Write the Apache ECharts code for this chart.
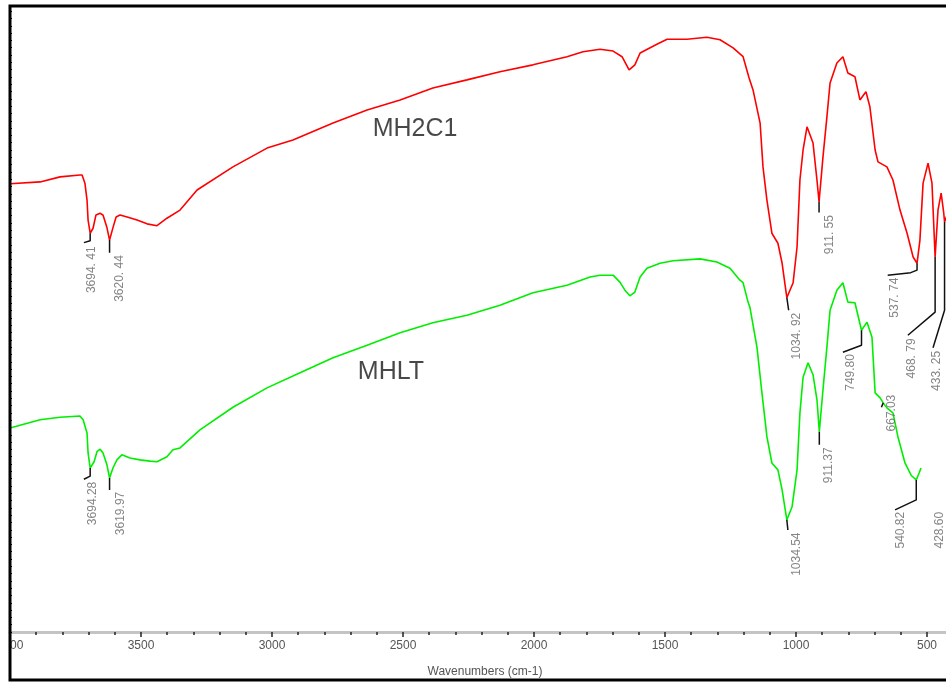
<!DOCTYPE html>
<html><head><meta charset="utf-8">
<script src="https://cdn.jsdelivr.net/npm/echarts@6/dist/echarts.min.js"></script>
<style>html,body{margin:0;padding:0;background:#fff;overflow:hidden;width:946px;height:682px}#c{width:1058px;height:682px}</style>
</head><body><div id="c"></div>
<script>
// ---- Data (wavenumber cm-1, transmittance-like units) ----
const redWavenumbers = [4000,3885,3809,3733,3725,3714,3706,3702,3694,3683,3672,3656,3645,3630,3620,3607,3595,3580,3553,3515,3477,3439,3401,3351,3286,3149,3019,2920,2767,2637,2511,2386,2256,2130,2004,1874,1813,1748,1698,1664,1637,1615,1595,1531,1492,1416,1340,1290,1240,1202,1179,1164,1137,1126,1111,1092,1069,1053,1035,1011,996,985,973,958,935,920,912,897,882,870,844,821,802,775,756,733,718,698,687,653,630,603,576,553,538,527,515,496,481,475,469,458,446,436,433,420,400];
const redValues = [71.6,71.9,72.7,73.0,73.0,71.7,69.0,65.8,63.7,64.5,66.6,66.9,66.6,64.6,62.6,64.6,66.3,66.6,66.3,65.8,65.2,64.9,66.1,67.4,70.6,74.3,77.3,78.6,81.3,83.4,85.0,86.9,88.2,89.5,90.6,91.9,92.7,93.1,92.8,91.9,89.8,90.6,92.5,93.9,94.7,94.7,95.0,94.6,93.3,91.9,88.5,86.6,81.3,74.3,69.0,63.7,62.1,58.9,53.4,55.8,61.5,72.2,77.0,80.7,78.1,72.2,68.7,75.9,82.3,87.7,90.9,91.9,89.3,88.7,85.0,86.3,83.9,77.0,75.1,74.3,72.2,67.4,63.7,59.9,58.9,62.6,71.7,74.9,71.7,65.8,59.9,67.4,70.1,66.9,65.5,67,68];

const greenWavenumbers = [4000,3885,3809,3733,3721,3706,3702,3694,3679,3668,3656,3645,3630,3620,3607,3592,3573,3542,3504,3466,3439,3401,3378,3351,3275,3149,3019,2893,2767,2637,2511,2386,2256,2130,2004,1874,1786,1748,1698,1672,1653,1634,1615,1595,1569,1519,1469,1366,1302,1252,1214,1202,1183,1176,1149,1130,1111,1092,1069,1053,1035,1015,996,985,973,954,935,920,911,897,882,870,844,821,802,775,750,729,710,698,679,667,653,630,611,584,560,541,530,523];
const greenValues = [32.6,33.9,34.3,34.5,33.9,31.8,28.6,26.2,27.2,28.8,29.2,28.6,26.7,24.6,26.2,27.5,28.3,27.8,27.5,27.3,27.2,28.0,29.1,29.4,32.3,35.9,39.0,41.4,43.8,45.8,47.8,49.4,50.6,52.2,54.2,55.4,56.7,57.0,57.0,55.9,54.6,53.7,54.3,56.7,58.1,58.9,59.3,59.6,59.1,58.1,56.2,55.8,52.7,51.9,45.5,38.2,31.2,27.0,25.9,22.7,17.9,20.0,25.9,35.0,40.7,43.0,41.1,37.1,32.0,38.7,45.5,51.4,54.6,55.8,52.7,52.6,48.2,49.5,47.1,38.2,37.4,36.6,35.8,35.0,31.2,27.0,25.0,24.3,25.4,26.2];

const seriesNames = ['MH2C1', 'MHLT'];
const seriesNameAt = [[2454, 80.4], [2546, 41.5]];

const redPeakLabels = ['3694. 41','3620. 44','1034. 92','911. 55','537. 74','468. 79','433. 25'];
const redPeakLeaders = [
  [[3694,63.7],[3694,62.5],[3718,62.2]],
  [[3620,62.6],[3620,60.6]],
  [[1035,53.4],[1028,51.4]],
  [[912,68.7],[912,67.0]],
  [[538,58.9],[538,57.8],[562,57.4],[650,57.0]],
  [[469,59.9],[469,51.1],[573,47.4]],
  [[433,65.5],[433,51.4],[477,45.4]]
];
const redPeakTextAt = [[3690,61.6],[3580,60.2],[998,51.0],[870,66.6],[622,56.6],[557,46.9],[462,44.9]];

const greenPeakLabels = ['3694.28','3619.97','1034.54','911.37','749.80','667.03','540.82','428.60'];
const greenPeakLeaders = [
  [[3694,26.2],[3694,24.9],[3718,24.4]],
  [[3620,24.6],[3620,22.7]],
  [[1035,17.9],[1031,16.3]],
  [[911,32.0],[911,29.9]],
  [[750,48.2],[750,45.8],[821,44.7]],
  [[667,36.6],[674,35.9]],
  [[541,24.3],[541,21.1],[622,19.5]],
  []
];
const greenPeakTextAt = [[3683,24.0],[3576,22.4],[996,15.9],[874,29.5],[790,44.4],[634,37.9],[599,19.2],[450,19.2]];

const xTickMin = 0, xTickMax = 4000, xTickStep = 500;

// ---- Chart ----
const FONT = 'Liberation Sans, Arial, sans-serif';
const chart = echarts.init(document.getElementById('c'));
const series = [];
series.push({
  type: 'line', name: seriesNames[0], animation: false, showSymbol: false, z: 3,
  data: redWavenumbers.map((v, i) => [v, redValues[i]]),
  lineStyle: { color: '#ff0000', width: 1.6 }, itemStyle: { color: '#ff0000' }
});
series.push({
  type: 'line', name: seriesNames[1], animation: false, showSymbol: false, z: 3,
  data: greenWavenumbers.map((v, i) => [v, greenValues[i]]),
  lineStyle: { color: '#00ee00', width: 1.6 }, itemStyle: { color: '#00ee00' }
});
redPeakLeaders.concat(greenPeakLeaders).forEach(pts => {
  if (!pts.length) return;
  series.push({ type: 'line', data: pts, showSymbol: false, silent: true, animation: false, z: 4,
    lineStyle: { color: '#111', width: 1.5 } });
});
const peakLabelSeries = (labels, at) => ({
  type: 'scatter', symbolSize: 0, silent: true, animation: false, z: 5,
  data: labels.map((t, i) => ({ name: t, value: at[i] })),
  label: { show: true, formatter: '{b}', position: 'inside', rotate: 90, align: 'right',
    verticalAlign: 'middle', color: '#666', fontSize: 12, fontFamily: FONT }
});
series.push(peakLabelSeries(redPeakLabels, redPeakTextAt));
series.push(peakLabelSeries(greenPeakLabels, greenPeakTextAt));
series.push({
  type: 'scatter', symbolSize: 0, silent: true, animation: false, z: 5,
  data: seriesNames.map((n, i) => ({ name: n, value: seriesNameAt[i] })),
  label: { show: true, formatter: '{b}', position: 'inside', color: '#1a1a1a', fontSize: 25, fontFamily: FONT }
});

chart.setOption({
  animation: false,
  backgroundColor: '#fff',
  title: { text: 'Wavenumbers (cm-1)', left: 480, textAlign: 'center', top: 661,
    textStyle: { fontSize: 12, color: '#555', fontWeight: 'normal', fontFamily: FONT } },
  grid: { left: 10, top: 6, bottom: 50, right: 0, containLabel: false, outerBoundsMode: 'none' },
  xAxis: {
    type: 'value', inverse: true, min: xTickMin, max: xTickMax, interval: xTickStep,
    axisLine: { onZero: false, lineStyle: { color: '#c4c4c4', width: 3 } },
    axisTick: { show: true, length: 5, lineStyle: { color: '#222', width: 1.5 } },
    minorTick: { show: true, splitNumber: 5, length: 3, lineStyle: { color: '#222', width: 1.5 } },
    axisLabel: { color: '#555', fontSize: 12, margin: 8, fontFamily: FONT, formatter: v => String(v) },
    splitLine: { show: false }
  },
  yAxis: {
    type: 'value', min: 0, max: 100, interval: 7, position: 'left',
    axisLine: { show: false, onZero: false },
    axisTick: { show: true, inside: true, length: 2, lineStyle: { color: '#000' } },
    minorTick: { show: true, splitNumber: 6, length: 2, lineStyle: { color: '#000' } },
    axisLabel: { show: false }, splitLine: { show: false }
  },
  graphic: [
    { type: 'rect', shape: { x: 0, y: 636, width: 10, height: 24 }, style: { fill: '#fff' }, z: 100 },
    { type: 'polyline', shape: { points: [[946, 6], [10, 6], [10, 680], [946, 680]] },
      style: { stroke: '#000', lineWidth: 3, fill: null }, z: 101 }
  ],
  series: series
});
</script>
</body></html>
